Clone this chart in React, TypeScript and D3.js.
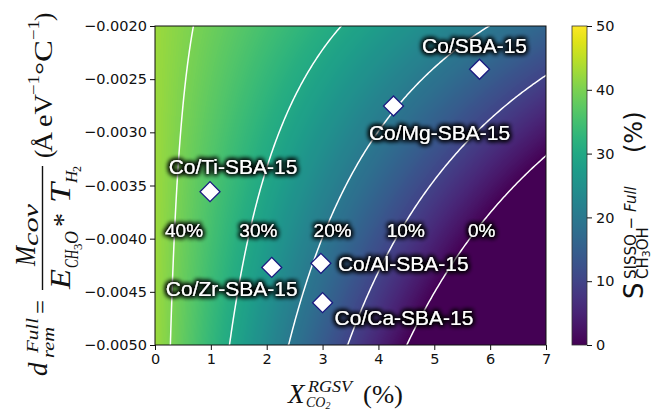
import React, { useEffect, useMemo, useRef } from "react";
import * as d3 from "d3";

// ---- data ----
const xTicks = [0, 1, 2, 3, 4, 5, 6, 7];
const yTicks = [-0.002, -0.0025, -0.003, -0.0035, -0.004, -0.0045, -0.005];
const colorTicks = [0, 10, 20, 30, 40, 50];
const contourLevels = [0, 10, 20, 30, 40];
const contourLabels = ["0%", "10%", "20%", "30%", "40%"];
const contourLabelX = [5.85, 4.49, 3.18, 1.85, 0.52];
const contourLabelD = -0.00398;

// fitted SISSO model surface: S = surfaceIntercept + surfaceCoef * X * d
const surfaceIntercept = 42.6;
const surfaceCoef = 1890;

const catalysts = ["Co/SBA-15", "Co/Mg-SBA-15", "Co/Ti-SBA-15", "Co/Zr-SBA-15", "Co/Al-SBA-15", "Co/Ca-SBA-15"];
const catalystX = [5.81, 4.27, 0.985, 2.09, 2.97, 3.0];
const catalystD = [-0.002407, -0.002752, -0.003558, -0.00427, -0.004232, -0.004602];

// label layout (pixel offsets from marker)
const labelLayout = [
  { dx: -5, dy: -16, anchor: "middle" },
  { dx: 46, dy: 34, anchor: "middle" },
  { dx: 23, dy: -18, anchor: "middle" },
  { dx: -40, dy: 29, anchor: "middle" },
  { dx: 17, dy: 8, anchor: "start" },
  { dx: 12, dy: 22, anchor: "start" },
];

const W = 653, H = 410;
const L = 155, R = 546, T = 26, B = 345;
const CBL = 572, CBR = 587;

const SANS = "'DejaVu Sans', sans-serif";
const ARIAL = "'Liberation Sans', Arial, sans-serif";
const SERIF = "'Liberation Serif', 'Times New Roman', serif";

const surface = (x: number, d: number) => surfaceIntercept + surfaceCoef * x * d;

export default function App() {
  const xScale = d3.scaleLinear().domain([0, 7]).range([L, R]);
  const yScale = d3.scaleLinear().domain([-0.005, -0.002]).range([B, T]);
  const cScale = d3.scaleLinear().domain([0, 50]).range([B, T]);
  const color = (v: number) => d3.interpolateViridis(Math.max(0, Math.min(1, v / 50)));

  const heatmapUrl = useMemo(() => {
    const w = R - L, h = B - T;
    const canvas = document.createElement("canvas");
    canvas.width = w;
    canvas.height = h;
    const ctx = canvas.getContext("2d")!;
    const img = ctx.createImageData(w, h);
    for (let j = 0; j < h; j++) {
      const dv = yScale.invert(T + j + 0.5);
      for (let i = 0; i < w; i++) {
        const xv = xScale.invert(L + i + 0.5);
        const c = d3.rgb(color(surface(xv, dv)));
        const k = (j * w + i) * 4;
        img.data[k] = c.r;
        img.data[k + 1] = c.g;
        img.data[k + 2] = c.b;
        img.data[k + 3] = 255;
      }
    }
    ctx.putImageData(img, 0, 0);
    return canvas.toDataURL();
  }, []);

  const contourPaths = useMemo(() => {
    const nx = 141, ny = 121;
    const gdx = 7 / (nx - 1), gdy = 0.003 / (ny - 1);
    const values: number[] = new Array(nx * ny);
    for (let j = 0; j < ny; j++)
      for (let i = 0; i < nx; i++) values[j * nx + i] = surface(i * gdx, -0.005 + j * gdy);
    const cs = d3.contours().size([nx, ny]).thresholds(contourLevels)(values);
    const proj = d3.geoTransform({
      point(px: number, py: number) {
        (this as any).stream.point(xScale((px - 0.5) * gdx), yScale(-0.005 + (py - 0.5) * gdy));
      },
    });
    const path = d3.geoPath(proj as any);
    return cs.map((c) => path(c as any) || "");
  }, []);

  const xAxisRef = useRef<SVGGElement>(null);
  const yAxisRef = useRef<SVGGElement>(null);
  const cAxisRef = useRef<SVGGElement>(null);

  useEffect(() => {
    const style = (g: any) => {
      g.attr("font-family", SANS).attr("font-size", 14.5);
      g.selectAll("text").attr("fill", "#111");
      g.selectAll("line").attr("stroke", "#111");
      g.select(".domain").remove();
    };
    d3.select(xAxisRef.current!)
      .call(d3.axisBottom(xScale).tickValues(xTicks).tickFormat(d3.format("d")).tickSize(5).tickPadding(4).tickSizeOuter(0) as any)
      .call(style);
    d3.select(yAxisRef.current!)
      .call(d3.axisLeft(yScale).tickValues(yTicks).tickFormat(d3.format(".4f")).tickSize(5).tickPadding(3).tickSizeOuter(0) as any)
      .call(style);
    d3.select(cAxisRef.current!)
      .call(d3.axisRight(cScale).tickValues(colorTicks).tickFormat(d3.format("d")).tickSize(5).tickPadding(4).tickSizeOuter(0) as any)
      .call(style);
  }, []);

  const gradStops = d3.range(0, 1.0001, 0.05);
  const diamond = d3.symbol().type(d3.symbolSquare).size(200)();

  return (
    <svg width={W} height={H} style={{ position: "absolute", left: 0, top: 0, background: "#fff" }}>
      <defs>
        <clipPath id="plotClip">
          <rect x={L} y={T} width={R - L} height={B - T} />
        </clipPath>
        <linearGradient id="cbGrad" x1="0" y1="1" x2="0" y2="0">
          {gradStops.map((t, i) => (
            <stop key={i} offset={t} stopColor={d3.interpolateViridis(t)} />
          ))}
        </linearGradient>
        <filter id="glow" x="-30%" y="-60%" width="160%" height="220%">
          <feMorphology in="SourceAlpha" operator="dilate" radius="1.4" result="dil" />
          <feGaussianBlur in="dil" stdDeviation="2.6" result="blur" />
          <feFlood floodColor="#000" floodOpacity="1" />
          <feComposite in2="blur" operator="in" result="shadow" />
          <feMerge>
            <feMergeNode in="shadow" />
            <feMergeNode in="shadow" />
            <feMergeNode in="SourceGraphic" />
          </feMerge>
        </filter>
      </defs>

      {/* heatmap */}
      <image href={heatmapUrl} x={L} y={T} width={R - L} height={B - T} preserveAspectRatio="none" />

      {/* contours */}
      <g clipPath="url(#plotClip)">
        {contourPaths.map((p, i) => (
          <path key={i} d={p} fill="none" stroke="#fff" strokeWidth={1.5} />
        ))}
      </g>

      {/* contour labels */}
      <g fontFamily={ARIAL} fontSize={19} fill="#fff" filter="url(#glow)">
        {contourLabels.map((t, i) => (
          <text key={t} x={xScale(contourLabelX[i])} y={yScale(contourLabelD)} textAnchor="middle">
            {t}
          </text>
        ))}
      </g>

      {/* markers */}
      {catalysts.map((c, i) => (
        <path
          key={c}
          d={diamond!}
          transform={`translate(${xScale(catalystX[i])},${yScale(catalystD[i])}) rotate(45)`}
          fill="#fff"
          stroke="#1a1a80"
          strokeWidth={1.3}
        />
      ))}

      {/* marker labels */}
      <g fontFamily={ARIAL} fontSize={21} fill="#fff" filter="url(#glow)">
        {catalysts.map((c, i) => (
          <text
            key={c}
            x={xScale(catalystX[i]) + labelLayout[i].dx}
            y={yScale(catalystD[i]) + labelLayout[i].dy}
            textAnchor={labelLayout[i].anchor as any}
          >
            {c}
          </text>
        ))}
      </g>

      {/* frame */}
      <rect x={L} y={T} width={R - L} height={B - T} fill="none" stroke="#111" strokeWidth={1} />

      <g ref={xAxisRef} transform={`translate(0,${B})`} />
      <g ref={yAxisRef} transform={`translate(${L},0)`} />

      {/* colorbar */}
      <rect x={CBL} y={T} width={CBR - CBL} height={B - T} fill="url(#cbGrad)" stroke="#333" strokeWidth={0.8} />
      <g ref={cAxisRef} transform={`translate(${CBR},0)`} />

      {/* x label */}
      <g fontFamily={SERIF} fill="#111">
        <text x={288} y={403} fontSize={27} fontStyle="italic">X</text>
        <text x={308} y={392} fontSize={17} fontStyle="italic" textLength={44} lengthAdjust="spacingAndGlyphs">RGSV</text>
        <text x={306} y={407} fontSize={14} fontStyle="italic">CO<tspan fontSize={10} dy={2}>2</tspan></text>
        <text x={363} y={403} fontSize={26} textLength={40} lengthAdjust="spacingAndGlyphs">(%)</text>
      </g>

      {/* y label */}
      <g transform="rotate(-90)" fontFamily={SERIF} fill="#111">
        <text x={-376} y={47} fontSize={27} fontStyle="italic">d</text>
        <text x={-353} y={38} fontSize={16} fontStyle="italic" textLength={35} lengthAdjust="spacingAndGlyphs">Full</text>
        <text x={-358} y={54} fontSize={17} fontStyle="italic" textLength={31} lengthAdjust="spacingAndGlyphs">rem</text>
        <text x={-314} y={49} fontSize={26} textLength={14} lengthAdjust="spacingAndGlyphs">=</text>
        <line x1={-290} x2={-166} y1={42.5} y2={42.5} stroke="#111" strokeWidth={1.4} />
        <text x={-266} y={35} fontSize={29} fontStyle="italic" textLength={20} lengthAdjust="spacingAndGlyphs">M</text>
        <text x={-246} y={38} fontSize={20} fontStyle="italic" textLength={42} lengthAdjust="spacingAndGlyphs">cov</text>
        <text x={-289} y={70} fontSize={29} fontStyle="italic" textLength={20} lengthAdjust="spacingAndGlyphs">E</text>
        <text x={-268} y={78} fontSize={18} fontStyle="italic" textLength={18} lengthAdjust="spacingAndGlyphs">CH</text>
        <text x={-250} y={82} fontSize={13}>3</text>
        <text x={-244} y={78} fontSize={18} fontStyle="italic">O</text>
        <text x={-227} y={72} fontSize={28}>*</text>
        <text x={-203} y={70} fontSize={29} fontStyle="italic" textLength={20} lengthAdjust="spacingAndGlyphs">T</text>
        <text x={-183} y={77} fontSize={17} fontStyle="italic">H</text>
        <text x={-172} y={81} fontSize={12}>2</text>
        <text x={-158} y={52} fontSize={25}>(</text>
        <text x={-152} y={52} fontSize={25} textLength={20} lengthAdjust="spacingAndGlyphs">Å</text>
        <text x={-127} y={52} fontSize={25} textLength={33} lengthAdjust="spacingAndGlyphs">eV</text>
        <text x={-95} y={39} fontSize={16} textLength={20} lengthAdjust="spacingAndGlyphs">−1</text>
        <text x={-75} y={52} fontSize={25} textLength={35} lengthAdjust="spacingAndGlyphs">°C</text>
        <text x={-40} y={39} fontSize={16} textLength={20} lengthAdjust="spacingAndGlyphs">−1</text>
        <text x={-21} y={52} fontSize={25}>)</text>
      </g>

      {/* colorbar label */}
      <g transform="rotate(-90)" fontFamily={SANS} fill="#111">
        <text x={-299} y={643} fontSize={26}>S</text>
        <text x={-279} y={636} fontSize={15}>
          SISSO − <tspan fontStyle="italic">Full</tspan>
        </text>
        <text x={-279} y={648} fontSize={15}>
          CH<tspan fontSize={11} dy={2}>3</tspan><tspan dy={-2}>OH</tspan>
        </text>
        <text x={-153} y={642} fontSize={24}>(%)</text>
      </g>
    </svg>
  );
}
